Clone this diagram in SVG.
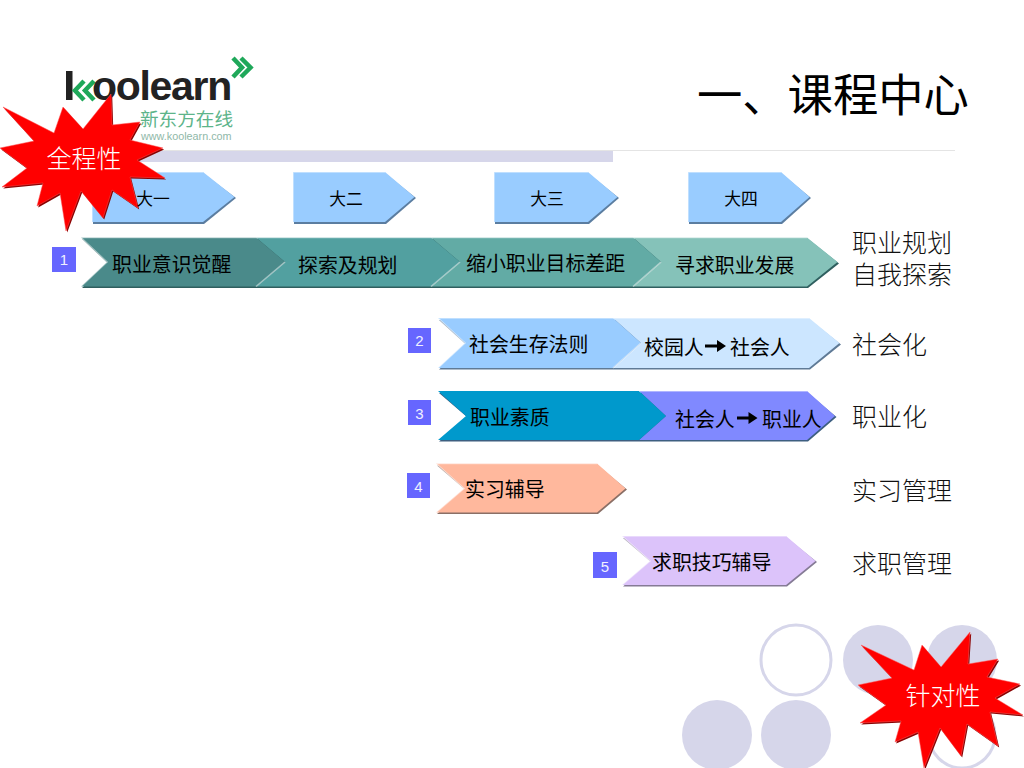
<svg xmlns="http://www.w3.org/2000/svg" width="1024" height="768" viewBox="0 0 1024 768">
<style>
text{font-family:"Noto Sans CJK SC","Liberation Sans",sans-serif}
.c{font-size:19.9px;fill:#000;font-weight:400}
.y{font-size:16.8px;fill:#000;text-anchor:middle}
.r{font-size:25px;fill:#111;font-weight:300}
.s{font-size:25px;fill:#fff;font-weight:300;text-anchor:middle}
.b{fill:#6666ff}
.n{font-family:"Liberation Sans",sans-serif;font-size:15px;fill:#f0f0ff;text-anchor:middle}
.ball{fill:#d6d6ea}
.ring{fill:#fff;stroke:#d6d6ea;stroke-width:3}
.hi{fill:none;stroke-width:1.5;stroke-opacity:.5;stroke:#fff}
</style>
<rect width="1024" height="768" fill="#fff"/>
<g id="header">
<rect x="130" y="150" width="483" height="12" fill="#d6d6ea"/>
<line x1="130" y1="150.5" x2="955" y2="150.5" stroke="#e4e4e4"/>
<text x="697" y="112" font-size="45.300" fill="#000" style="font-weight:400">一、课程中心</text>
</g>
<g id="logo">
<rect x="66" y="71" width="6.500" height="29" fill="#222"/>
<polyline points="84,81 75,90.500 84,100" fill="none" stroke="#1fa85a" stroke-width="4.500"/>
<polyline points="94,81 85,90.500 94,100" fill="none" stroke="#1fa85a" stroke-width="4.500"/>
<text x="92" y="100" style="font-family:'Liberation Sans',sans-serif;font-weight:700;font-size:41px;letter-spacing:-1.300px" fill="#222">oolearn</text>
<polyline points="233,58 242,67.500 233,77" fill="none" stroke="#1fa85a" stroke-width="4.500"/>
<polyline points="241,58 250.500,67.500 241,77" fill="none" stroke="#1fa85a" stroke-width="4.500"/>
<text x="140" y="126" font-size="18.600" fill="#5db48a" style="font-weight:400">新东方在线</text>
<text x="141" y="140" style="font-family:'Liberation Sans',sans-serif;font-size:10.800px" fill="#8fb8a8">www.koolearn.com</text>
</g>
<g id="circles">
<circle class="ring" cx="796" cy="660" r="35"/>
<circle class="ball" cx="878" cy="660" r="35"/>
<circle class="ball" cx="962" cy="660" r="35"/>
<circle class="ball" cx="717" cy="735" r="35"/>
<circle class="ball" cx="796" cy="735" r="35"/>
<circle class="ring" cx="962" cy="735" r="33"/>
</g>
<g id="year-1"><polygon points="93,174 204,174 236,198 204,224 93,224" fill="#5b7da0"/><polygon points="92,172 203,172 234.500,197 203,222 92,222" fill="#99ccff"/><polyline class="hi" points="92,222 92,172 203,172"/></g>
<g id="year-2"><polygon points="294,174 386,174 416,198 386,224 294,224" fill="#5b7da0"/><polygon points="293,172 385,172 414.500,197 385,222 293,222" fill="#99ccff"/><polyline class="hi" points="293,222 293,172 385,172"/><text class="y" x="346" y="205">大二</text></g>
<g id="year-3"><polygon points="495,174 589,174 619,198 589,224 495,224" fill="#5b7da0"/><polygon points="494,172 588,172 617.500,197 588,222 494,222" fill="#99ccff"/><polyline class="hi" points="494,222 494,172 588,172"/><text class="y" x="547" y="205">大三</text></g>
<g id="year-4"><polygon points="689,174 782,174 811,198 782,224 689,224" fill="#5b7da0"/><polygon points="688,172 781,172 809.500,197 781,222 688,222" fill="#99ccff"/><polyline class="hi" points="688,222 688,172 781,172"/><text class="y" x="741" y="205">大四</text></g>
<g id="row-1">
<rect class="b" x="52" y="247" width="24" height="25"/><text class="n" x="64" y="265">1</text>
<polygon points="82,239 808,239 839,263.500 808,288 82,288 108,263.500" fill="#2f5f5f"/>
<polygon points="633,237.500 807,237.500 837.500,262 807,286.500 633,286.500 661,262" fill="#85c2b9"/>
<polygon points="431,237.500 633,237.500 661,262 633,286.500 431,286.500 460,262" fill="#62aba5"/>
<polygon points="256,237.500 431,237.500 460,262 431,286.500 256,286.500 285,262" fill="#52a0a0"/>
<polygon points="81,237.500 256,237.500 285,262 256,286.500 81,286.500 107,262" fill="#4a8a8a"/>
<polyline class="hi" points="81,286.500 107,262 81,237.500 807,237.500"/>
<polyline class="hi" points="256,286.500 285,262"/><polyline class="hi" points="431,286.500 460,262"/><polyline class="hi" points="633,286.500 661,262"/>
<text class="c" x="112" y="272">职业意识觉醒</text>
<text class="c" x="298" y="273">探索及规划</text>
<text class="c" x="466" y="271">缩小职业目标差距</text>
<text class="c" x="675" y="273">寻求职业发展</text>
</g>
<g id="row-2">
<rect class="b" x="408" y="328" width="23" height="25"/><text class="n" x="419.500" y="346">2</text>
<polygon points="439,320 810,320 841,344.500 810,369.500 439,369.500 466,344.500" fill="#5f7a96"/>
<polygon points="613,318 809,318 839.500,343 809,368 613,368 641,343" fill="#cce6ff"/>
<polygon points="438,318 613,318 641,343 613,368 438,368 465,343" fill="#99ccff"/>
<polyline class="hi" points="438,368 465,343 438,318 809,318"/>
<polyline class="hi" points="613,368 641,343"/>
<text class="c" x="469" y="352">社会生存法则</text>
<text class="c" x="644" y="355">校园人</text>
<path d="M705 344.500h12v-4.500l9 6-9 6v-4.500h-12z" fill="#000"/>
<text class="c" x="730" y="355">社会人</text>
</g>
<g id="row-3">
<rect class="b" x="408" y="400" width="23" height="25"/><text class="n" x="419.500" y="419">3</text>
<polygon points="439,393 808,393 836.500,417 808,441.500 439,441.500 467,417" fill="#3d5f80"/>
<polygon points="639,391 807,391 835,416 807,440 639,440 666,416" fill="#8089ff"/>
<polygon points="438,391 639,391 666,416 639,440 438,440 466,416" fill="#0099cc"/>
<polyline class="hi" points="639,391 807,391"/>
<text class="c" x="470" y="425">职业素质</text>
<text class="c" x="675" y="427">社会人</text>
<path d="M737 416.500h11.500v-4.500l9 6-9 6v-4.500h-11.500z" fill="#000"/>
<text class="c" x="762" y="427">职业人</text>
</g>
<g id="row-4">
<rect class="b" x="407" y="473" width="23" height="25"/><text class="n" x="418.500" y="492">4</text>
<polygon points="437,465.500 598,465.500 627,489.500 598,514 437,514 465,489.500" fill="#8a6f66"/>
<polygon points="436,463.500 597,463.500 625.500,488.500 597,512.500 436,512.500 464,488.500" fill="#ffb89d"/>
<polyline class="hi" points="436,512.500 464,488.500 436,463.500 597,463.500"/>
<text class="c" x="465" y="497">实习辅导</text>
</g>
<g id="row-5">
<rect class="b" x="593" y="552" width="24" height="26"/><text class="n" x="605" y="572">5</text>
<polygon points="623,538 787,538 817,562 787,586.500 623,586.500 651,562" fill="#857b95"/>
<polygon points="622,536 786,536 815.500,561 786,585 622,585 650,561" fill="#dcc3fa"/>
<polyline class="hi" points="622,585 650,561 622,536 786,536"/>
<text class="c" x="652" y="570">求职技巧辅导</text>
</g>
<g id="labels">
<text class="r" x="852" y="252">职业规划</text>
<text class="r" x="852" y="284">自我探索</text>
<text class="r" x="852" y="354">社会化</text>
<text class="r" x="852" y="426">职业化</text>
<text class="r" x="852" y="500">实习管理</text>
<text class="r" x="852" y="573">求职管理</text>
</g>
<g id="star-1">
<polygon transform="translate(1.200,1.500)" fill="#8a0000" points="111,94 83,129 63,107 54,133 3,107 34,141 0,148 27,168 2,187 43,183 37,206 60,193 66,231 81,191 103,218 112,190 138,208 130,177 165,178 137,160 163,148 130,140 140,122 112,125"/>
<polygon fill="#ff0000" stroke="#ff5050" stroke-width=".5" points="111,94 83,129 63,107 54,133 3,107 34,141 0,148 27,168 2,187 43,183 37,206 60,193 66,231 81,191 103,218 112,190 138,208 130,177 165,178 137,160 163,148 130,140 140,122 112,125"/>
<text class="s" x="84" y="168">全程性</text>
</g>
<text id="year-1-label" class="y" x="153" y="205">大一</text>
<g id="star-2">
<polygon transform="translate(1.200,1.500)" fill="#8a0000" points="970,632 941,667 922,645 914,670 861,645 892,678 858,685 886,705 860,723 901,721 895,742 918,732 924,768 940,728 961,756 967,724 998,746 990,712 1023,715 995,698 1020,684 987,677 998,659 968,664"/>
<polygon fill="#ff0000" stroke="#ff6060" stroke-width=".5" points="970,632 941,667 922,645 914,670 861,645 892,678 858,685 886,705 860,723 901,721 895,742 918,732 924,768 940,728 961,756 967,724 998,746 990,712 1023,715 995,698 1020,684 987,677 998,659 968,664"/>
<text class="s" x="943" y="705">针对性</text>
</g>
</svg>
